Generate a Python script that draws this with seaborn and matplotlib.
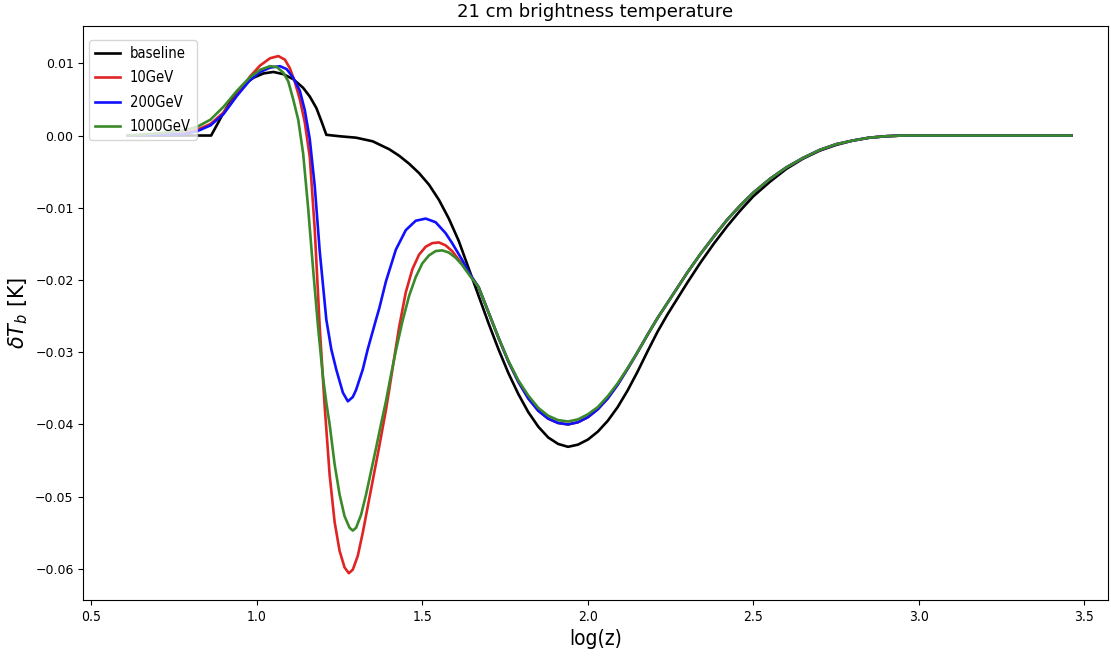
import seaborn as sns
import matplotlib.pyplot as plt
import pandas as pd

# 21 cm brightness temperature curves
logz_baseline = [0.61, 0.70, 0.80, 0.862, 0.88, 0.90, 0.93, 0.96, 0.99, 1.02, 1.05, 1.08, 1.11, 1.14,
                 1.16, 1.18, 1.195, 1.21, 1.25, 1.30, 1.35, 1.40, 1.43, 1.46, 1.49, 1.52, 1.55, 1.58,
                 1.61, 1.64, 1.67, 1.70, 1.73, 1.76, 1.79, 1.82, 1.85, 1.88, 1.91, 1.94, 1.97, 2.00,
                 2.03, 2.06, 2.09, 2.12, 2.15, 2.18, 2.21, 2.24, 2.27, 2.30, 2.34, 2.38, 2.42, 2.46,
                 2.50, 2.55, 2.60, 2.65, 2.70, 2.75, 2.80, 2.85, 2.90, 2.95, 3.00, 3.10, 3.20, 3.30,
                 3.40, 3.46]
dtb_baseline = [0.0, 0.0, 0.0, 0.0, 0.0015, 0.0032, 0.0054, 0.0070, 0.0080, 0.0086, 0.0088, 0.0085,
                0.0078, 0.0066, 0.0054, 0.0038, 0.0020, 0.0001, -0.0001, -0.0003, -0.0008, -0.0019,
                -0.0028, -0.0039, -0.0052, -0.0068, -0.0089, -0.0115, -0.0146, -0.0184, -0.0222,
                -0.0260, -0.0296, -0.0329, -0.0358, -0.0383, -0.0403, -0.0418, -0.0427, -0.0431,
                -0.0428, -0.0421, -0.0410, -0.0395, -0.0376, -0.0353, -0.0327, -0.0299, -0.0272,
                -0.0248, -0.0226, -0.0204, -0.0176, -0.0150, -0.0126, -0.0104, -0.0084, -0.0064,
                -0.0046, -0.0032, -0.0021, -0.0013, -0.0007, -0.0003, -0.0001, 0.0, 0.0, 0.0, 0.0,
                0.0, 0.0, 0.0]

logz_10gev = [0.61, 0.70, 0.78, 0.82, 0.86, 0.90, 0.94, 0.98, 1.01, 1.04, 1.065, 1.085, 1.10, 1.115,
              1.13, 1.145, 1.16, 1.175, 1.19, 1.205, 1.22, 1.235, 1.25, 1.265, 1.278, 1.29, 1.305,
              1.32, 1.335, 1.35, 1.37, 1.39, 1.40, 1.415, 1.43, 1.45, 1.47, 1.49, 1.51, 1.53, 1.55,
              1.57, 1.59, 1.61, 1.64, 1.67, 1.70, 1.73, 1.76, 1.79, 1.82, 1.85, 1.88, 1.91, 1.94,
              1.97, 2.00, 2.03, 2.06, 2.09, 2.12, 2.15, 2.18, 2.21, 2.24, 2.27, 2.30, 2.34, 2.38,
              2.42, 2.46, 2.50, 2.55, 2.60, 2.65, 2.70, 2.75, 2.80, 2.85, 2.90, 2.95, 3.00, 3.10,
              3.20, 3.30, 3.40, 3.46]
dtb_10gev = [0.0, 0.0001, 0.0003, 0.0008, 0.0016, 0.0032, 0.0056, 0.0082, 0.0097, 0.0107, 0.0110,
             0.0105, 0.0093, 0.0074, 0.0050, 0.0018, -0.0030, -0.0130, -0.0265, -0.0375, -0.0470,
             -0.0535, -0.0575, -0.0598, -0.0606, -0.0601, -0.0582, -0.0550, -0.0514, -0.0478,
             -0.0430, -0.0380, -0.0352, -0.0308, -0.0265, -0.0217, -0.0185, -0.0165, -0.0154,
             -0.0149, -0.0148, -0.0152, -0.0160, -0.0172, -0.0190, -0.0210, -0.0245, -0.0280,
             -0.0313, -0.0341, -0.0364, -0.0381, -0.0392, -0.0398, -0.0400, -0.0397, -0.0390,
             -0.0379, -0.0364, -0.0345, -0.0323, -0.0300, -0.0276, -0.0253, -0.0232, -0.0211,
             -0.0190, -0.0164, -0.0140, -0.0117, -0.0097, -0.0079, -0.0060, -0.0044, -0.0031,
             -0.0020, -0.0012, -0.0007, -0.0003, -0.0001, 0.0, 0.0, 0.0, 0.0, 0.0, 0.0, 0.0]

logz_200gev = [0.61, 0.70, 0.78, 0.82, 0.86, 0.90, 0.94, 0.98, 1.01, 1.04, 1.07, 1.09, 1.11, 1.13,
               1.145, 1.16, 1.175, 1.19, 1.21, 1.225, 1.24, 1.26, 1.275, 1.29, 1.30, 1.32, 1.335,
               1.36, 1.37, 1.39, 1.42, 1.45, 1.48, 1.51, 1.54, 1.57, 1.59, 1.62, 1.645, 1.67, 1.70,
               1.73, 1.76, 1.79, 1.82, 1.85, 1.88, 1.91, 1.94, 1.97, 2.00, 2.03, 2.06, 2.09, 2.12,
               2.15, 2.18, 2.21, 2.24, 2.27, 2.30, 2.34, 2.38, 2.42, 2.46, 2.50, 2.55, 2.60, 2.65,
               2.70, 2.75, 2.80, 2.85, 2.90, 2.95, 3.00, 3.10, 3.20, 3.30, 3.40, 3.46]
dtb_200gev = [0.0, 0.0001, 0.0002, 0.0006, 0.0014, 0.0030, 0.0055, 0.0077, 0.0088, 0.0094, 0.0096,
              0.0092, 0.0080, 0.0062, 0.0035, -0.0005, -0.0070, -0.0160, -0.0255, -0.0296, -0.0324,
              -0.0356, -0.0368, -0.0362, -0.0352, -0.0324, -0.0296, -0.0255, -0.0239, -0.0202,
              -0.0158, -0.0131, -0.0118, -0.0115, -0.0120, -0.0135, -0.0149, -0.0172, -0.0193,
              -0.0210, -0.0245, -0.0280, -0.0313, -0.0341, -0.0364, -0.0381, -0.0392, -0.0398,
              -0.0400, -0.0397, -0.0390, -0.0379, -0.0364, -0.0345, -0.0323, -0.0300, -0.0276,
              -0.0253, -0.0232, -0.0211, -0.0190, -0.0164, -0.0140, -0.0117, -0.0097, -0.0079,
              -0.0060, -0.0044, -0.0031, -0.0020, -0.0012, -0.0007, -0.0003, -0.0001, 0.0, 0.0,
              0.0, 0.0, 0.0, 0.0, 0.0]

logz_1000gev = [0.61, 0.70, 0.78, 0.82, 0.86, 0.90, 0.94, 0.98, 1.01, 1.04, 1.06, 1.08, 1.095, 1.11,
                1.125, 1.14, 1.155, 1.17, 1.185, 1.20, 1.21, 1.22, 1.235, 1.25, 1.265, 1.28, 1.29,
                1.30, 1.315, 1.33, 1.345, 1.36, 1.375, 1.39, 1.405, 1.42, 1.44, 1.46, 1.48, 1.50,
                1.52, 1.54, 1.56, 1.58, 1.60, 1.62, 1.64, 1.67, 1.70, 1.73, 1.76, 1.79, 1.82, 1.85,
                1.88, 1.91, 1.94, 1.97, 2.00, 2.03, 2.06, 2.09, 2.12, 2.15, 2.18, 2.21, 2.24, 2.27,
                2.30, 2.34, 2.38, 2.42, 2.46, 2.50, 2.55, 2.60, 2.65, 2.70, 2.75, 2.80, 2.85, 2.90,
                2.95, 3.00, 3.10, 3.20, 3.30, 3.40, 3.46]
dtb_1000gev = [0.0, 0.0003, 0.0007, 0.0012, 0.0022, 0.0040, 0.0062, 0.0081, 0.0091, 0.0096, 0.0095,
               0.0087, 0.0075, 0.0050, 0.0022, -0.0025, -0.0100, -0.0185, -0.0265, -0.0335, -0.0370,
               -0.0400, -0.0455, -0.0497, -0.0527, -0.0543, -0.0547, -0.0543, -0.0525, -0.0497,
               -0.0465, -0.0433, -0.0400, -0.0368, -0.0332, -0.0298, -0.0257, -0.0222, -0.0196,
               -0.0177, -0.0166, -0.0160, -0.0159, -0.0162, -0.0169, -0.0179, -0.0192, -0.0210,
               -0.0245, -0.0280, -0.0312, -0.0339, -0.0360, -0.0377, -0.0388, -0.0394, -0.0396,
               -0.0393, -0.0386, -0.0376, -0.0361, -0.0343, -0.0322, -0.0300, -0.0276, -0.0253,
               -0.0232, -0.0211, -0.0190, -0.0164, -0.0140, -0.0117, -0.0097, -0.0079, -0.0060,
               -0.0044, -0.0031, -0.0020, -0.0012, -0.0007, -0.0003, -0.0001, 0.0, 0.0, 0.0, 0.0,
               0.0, 0.0, 0.0]

labels = ["baseline", "10GeV", "200GeV", "1000GeV"]
colors = ["black", "#e02424", "#1010ff", "#3a8a2a"]

frames = []
for lab, xs, ys in zip(labels,
                       [logz_baseline, logz_10gev, logz_200gev, logz_1000gev],
                       [dtb_baseline, dtb_10gev, dtb_200gev, dtb_1000gev]):
    frames.append(pd.DataFrame({"logz": xs, "dTb": ys, "model": lab}))
df = pd.concat(frames, ignore_index=True)

fig = plt.figure(figsize=(11.11, 6.6), dpi=100)
ax = fig.add_axes([0.075, 0.091, 0.922, 0.870])

sns.lineplot(data=df, x="logz", y="dTb", hue="model", hue_order=labels,
             palette=colors, estimator=None, linewidth=1.9, ax=ax)

ax.set_xlim(0.476, 3.57)
ax.set_ylim(-0.0643, 0.0152)
ax.set_title("21 cm brightness temperature", fontsize=13)
ax.set_xlabel("log(z)", fontsize=15, fontstretch="condensed")
ax.set_ylabel(r"$\delta T_b$ [K]", fontsize=15)
ax.tick_params(axis="y", labelsize=9)
ax.tick_params(axis="x", labelsize=10)
for t in ax.get_xticklabels():
    t.set_fontstretch("condensed")

# legend box in the top-left corner, narrow font as in the original
ax.legend(loc="upper left", bbox_to_anchor=(0.0, 0.985), borderaxespad=0.4,
          prop={"size": 10.5, "stretch": "condensed"}, handlelength=1.7, handletextpad=0.7,
          labelspacing=0.65)

plt.savefig("out.png", dpi=100)
